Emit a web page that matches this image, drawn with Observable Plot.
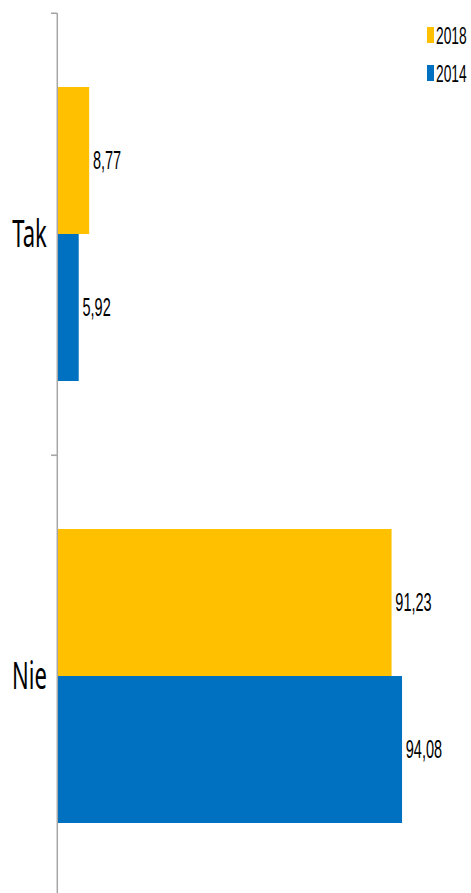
<!DOCTYPE html>
<html>
<head>
<meta charset="utf-8">
<script src="https://cdn.jsdelivr.net/npm/d3@7"></script>
<script src="https://cdn.jsdelivr.net/npm/@observablehq/plot@0.6"></script>
<style>
  html, body { margin: 0; padding: 0; background: #fff; }
  #wrap { position: relative; width: 471px; height: 893px; overflow: hidden; }
  .sw { position: absolute; width: 7px; }
  .lt { position: absolute; font-family: "Liberation Sans", Arial, sans-serif; font-size: 23px; line-height: 23px; color: #000; transform: scaleX(0.6); transform-origin: 0 0; white-space: nowrap; }
</style>
</head>
<body>
<div id="wrap"></div>
<script>
// Data
const categories = ["Tak", "Nie"];
const years = ["2018", "2014"];
const values2018 = [8.77, 91.23];
const values2014 = [5.92, 94.08];
const colors = ["#FFC000", "#0070C0"];

const data = [];
categories.forEach((c, i) => {
  data.push({category: c, year: years[0], value: values2018[i]});
  data.push({category: c, year: years[1], value: values2014[i]});
});
const fmt = v => v.toFixed(2).replace(".", ",");

// Horizontal compression of the reference (text is narrow)
const K = 0.58;
const W = Math.round(471 / K);
const H = 897;
const mTop = 12, mBottom = 0;
const mLeft = 57 / K;
const mRight = W - 423.7 / K;
const step = (H - mTop - mBottom) / categories.length;

const plot = Plot.plot({
  width: W,
  height: H,
  marginTop: mTop,
  marginBottom: mBottom,
  marginLeft: mLeft,
  marginRight: mRight,
  x: {domain: [0, 100], axis: null},
  y: {domain: years, paddingInner: 0, paddingOuter: 0.5, axis: null},
  fy: {domain: categories, padding: 0},
  color: {domain: years, range: colors},
  marks: [
    Plot.barX(data, {x: "value", y: "year", fy: "category", fill: "year"}),
    Plot.text(data, {
      x: "value", y: "year", fy: "category",
      text: d => fmt(d.value),
      textAnchor: "start", dx: 6,
      fontSize: 25, fontFamily: "Liberation Sans, Arial, sans-serif",
      fill: "#000"
    }),
    Plot.ruleX([0], {stroke: "#a6a6a6", strokeWidth: 2.6}),
    Plot.axisFy({
      anchor: "left", label: null, tickSize: 0, tickPadding: 18,
      fontSize: 38, fontFamily: "Noto Sans, sans-serif", fill: "#000"
    }),
    Plot.axisFy({
      anchor: "left", label: null, tickSize: 10.3, tickFormat: () => "",
      dy: -step / 2, stroke: "#a6a6a6", strokeWidth: 1.6
    })
  ]
});

plot.setAttribute("width", 471);
plot.setAttribute("height", H);
plot.setAttribute("preserveAspectRatio", "none");
plot.setAttribute("style", "display:block;width:471px;height:" + H + "px;background:#fff;overflow:visible;");

const wrap = document.getElementById("wrap");
wrap.appendChild(plot);

// Legend (overlay, top right)
const legendTops = [27, 65];
years.forEach((y, i) => {
  const sw = document.createElement("div");
  sw.className = "sw";
  sw.style.left = "427px";
  sw.style.top = legendTops[i] + "px";
  sw.style.height = "16px";
  sw.style.background = colors[i];
  wrap.appendChild(sw);
  const t = document.createElement("div");
  t.className = "lt";
  t.style.left = "436px";
  t.style.top = (legendTops[i] - 2) + "px";
  t.textContent = y;
  wrap.appendChild(t);
});
</script>
</body>
</html>
